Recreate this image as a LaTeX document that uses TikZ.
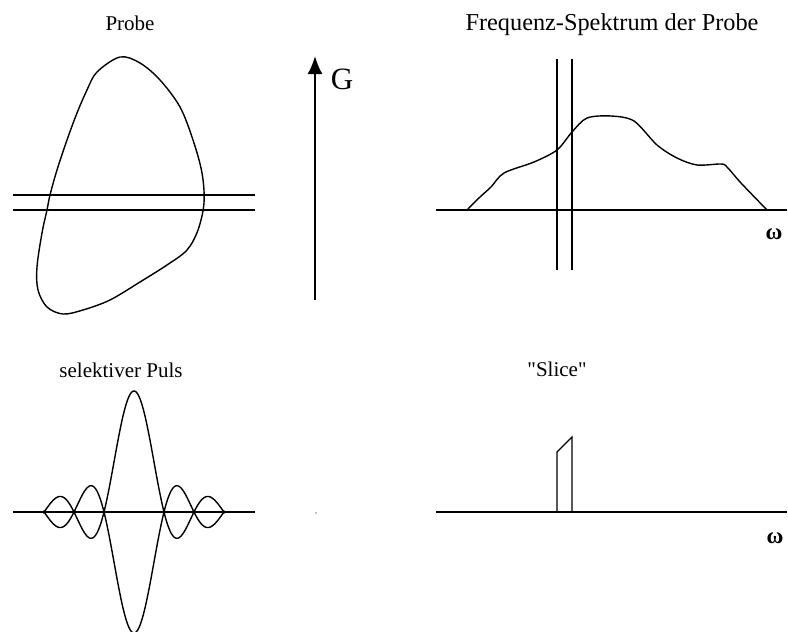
\documentclass[tikz,border=0pt]{standalone}
\usepackage{fontspec}
\setmainfont{Liberation Serif}
\usetikzlibrary{arrows.meta}
\begin{document}
\begin{tikzpicture}[x=1pt,y=-1pt,
  axis/.style={line width=2pt},
  curve/.style={line width=1.4pt},
  title/.style={anchor=base,inner sep=0pt,font=\fontsize{21}{24}\selectfont},
  omega/.style={anchor=base,inner sep=0pt,font=\fontsize{23}{26}\selectfont\bfseries}]
\useasboundingbox (0,0) rectangle (788,632);
% titles
\node[title] (t1) at (130,30) {Probe};
\node[title,font=\fontsize{24.3}{28}\selectfont] (t2) at (612,30) {Frequenz-Spektrum der Probe};
\node[title] (t3) at (121,377) {selektiver Puls};
\node[title] (t4) at (557,376) {\textquotedbl Slice\textquotedbl};
% sample blob
\draw[curve] plot[smooth cycle,tension=0.55] coordinates {
 (120,57) (97,72) (87,90) (77,113) (67,140) (57,170) (50,195) (47,210) (42,233)
 (37,267) (38,290) (47,307) (63,314) (83,310) (110,300) (140,282) (167,265)
 (187,250) (198,230) (204,203) (202,173) (193,140) (180,107) (160,80) (140,63)};
\draw[axis] (13,195) -- (255,195);
\draw[axis] (13,210) -- (255,210);
% gradient arrow
\coordinate (gb) at (315,300);
\coordinate (gt) at (315,56);
\draw[axis,-{Latex[length=18pt,width=15pt]}] (gb) -- (gt);
\node[anchor=base,inner sep=0pt,font=\fontsize{31}{34}\selectfont] (G) at (342,89) {G};
% spectrum
\draw[axis] (436,210) -- (787,210);
\draw[axis] (557,59) -- (557,270);
\draw[axis] (572,59) -- (572,270);
\draw[curve] plot[smooth,tension=0.5] coordinates {
 (467,210) (480,197) (491,187) (504,173) (534,162) (557,150) (572,132) (587,118)
 (611,116) (634,121) (657,145) (677,158) (697,165) (721,164) (727,167) (741,183) (767,210)};
\node[omega] (w1) at (774,239) {ω};
% selective pulse
\draw[axis] (13,512) -- (255,512);
\draw[curve] plot[domain=-3.03:3.03,samples=240] ({134+30*\x},{512-121*sin(deg(pi*\x))/(pi*\x)});
\draw[curve] plot[domain=-3.03:3.03,samples=240] ({134+30*\x},{512+121*sin(deg(pi*\x))/(pi*\x)});
\fill (316,513) circle (0.7);
% slice
\draw[axis] (436,512) -- (787,512);
\draw[curve] (557,512) -- (557,452) -- (572,437) -- (572,512);
\node[omega] (w2) at (775,543) {ω};
\end{tikzpicture}
\end{document}
